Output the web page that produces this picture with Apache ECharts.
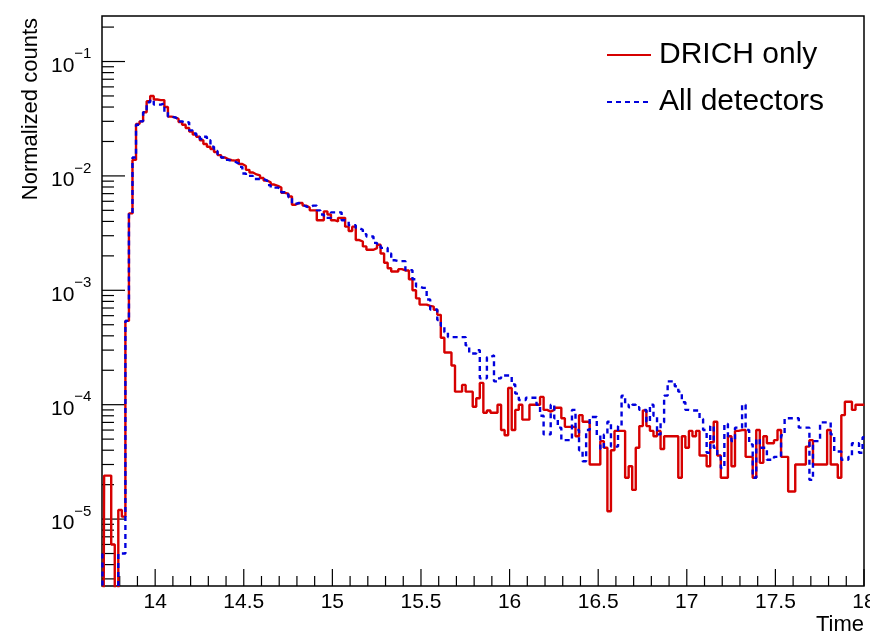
<!DOCTYPE html>
<html>
<head>
<meta charset="utf-8">
<title>Normalized counts vs Time</title>
<script src="https://cdn.jsdelivr.net/npm/echarts@6/dist/echarts.min.js"></script>
<style>
  html, body { margin: 0; padding: 0; background: #fff; }
  #chart { width: 870px; height: 636px; }
</style>
</head>
<body>
<div id="chart"></div>
<script>
// histogram binning: 0.02 wide bins
var binStart = 13.692;
var binWidth = 0.02;

// DRICH only (red, solid)
var drichOnly = [
  0, 2.4e-5, 2.4e-5, 6e-6, 0, 1.2e-5, 1.05e-5, 5.4e-4, 4.7e-3, 1.38e-2,
  2.85e-2, 3.0e-2, 3.6e-2, 4.5e-2, 5.0e-2, 4.65e-2, 4.6e-2, 4.6e-2, 4.0e-2, 3.3e-2,
  3.25e-2, 3.15e-2, 2.96e-2, 2.8e-2, 2.62e-2, 2.44e-2, 2.3e-2, 2.2e-2, 2.05e-2, 1.9e-2,
  1.8e-2, 1.72e-2, 1.62e-2, 1.52e-2, 1.45e-2, 1.4e-2, 1.37e-2, 1.36e-2, 1.39e-2, 1.27e-2,
  1.22e-2, 1.13e-2, 1.07e-2, 1.03e-2, 1.01e-2, 9.6e-3, 9.1e-3, 8.8e-3, 8.4e-3, 8.2e-3,
  7.9e-3, 7.1e-3, 7.0e-3, 6.6e-3, 5.6e-3, 5.8e-3, 5.8e-3, 5.5e-3, 5.3e-3, 5.0e-3,
  5.0e-3, 4.1e-3, 4.1e-3, 4.9e-3, 4.6e-3, 4.1e-3, 4.0e-3, 4.3e-3, 4.3e-3, 3.6e-3,
  3.3e-3, 3.6e-3, 2.75e-3, 2.67e-3, 2.42e-3, 2.26e-3, 2.26e-3, 2.34e-3, 2.5e-3, 2.1e-3,
  1.74e-3, 1.56e-3, 1.46e-3, 1.46e-3, 1.53e-3, 1.49e-3, 1.49e-3, 1.25e-3, 1.0e-3, 8.5e-4,
  7.5e-4, 7.5e-4, 7.3e-4, 7.2e-4, 6.75e-4, 6.1e-4, 3.85e-4, 2.86e-4, 2.86e-4, 2.2e-4,
  1.3e-4, 1.3e-4, 1.49e-4, 1.3e-4, 1.3e-4, 9.6e-5, 1.14e-4, 1.55e-4, 8.5e-5, 8.9e-5,
  8.5e-5, 8.5e-5, 1.0e-4, 6.0e-5, 5.4e-5, 1.4e-4, 6.0e-5, 9.0e-5, 1.0e-4, 7.4e-5,
  7.4e-5, 1.0e-4, 1.0e-4, 1.0e-4, 1.17e-4, 9.0e-5, 8.7e-5, 9.0e-5, 9.4e-5, 9.4e-5,
  7.6e-5, 6.4e-5, 6.4e-5, 6.4e-5, 5.3e-5, 8.1e-5, 7.1e-5, 7.1e-5, 3.0e-5, 3.0e-5,
  3.0e-5, 4.8e-5, 4.2e-5, 1.17e-5, 4.0e-5, 5.9e-5, 5.9e-5, 5.9e-5, 2.3e-5, 2.9e-5,
  1.8e-5, 4.2e-5, 6.5e-5, 8.9e-5, 6.5e-5, 5.9e-5, 5.3e-5, 5.9e-5, 4.1e-5, 5.3e-5,
  5.3e-5, 5.3e-5, 5.3e-5, 2.3e-5, 5.3e-5, 4.2e-5, 5.9e-5, 5.3e-5, 5.9e-5, 3.6e-5,
  3.6e-5, 2.9e-5, 4.7e-5, 7.1e-5, 3.6e-5, 2.3e-5, 2.3e-5, 5.3e-5, 2.9e-5, 5.9e-5,
  6.0e-5, 6.0e-5, 3.5e-5, 3.5e-5, 2.3e-5, 6.0e-5, 3.1e-5, 5.3e-5, 4.6e-5, 4.6e-5,
  4.9e-5, 6.0e-5, 3.5e-5, 3.5e-5, 1.74e-5, 1.74e-5, 3.0e-5, 3.0e-5, 3.0e-5, 4.3e-5,
  4.9e-5, 3.0e-5, 3.0e-5, 3.0e-5, 3.0e-5, 6.0e-5, 3.0e-5, 3.0e-5, 2.3e-5, 8.1e-5,
  1.06e-4, 1.06e-4, 9.0e-5, 1.0e-4, 1.0e-4, 1.0e-4
];

// All detectors (blue, dashed)
var allDetectors = [
  5e-6, 0, 0, 0, 0, 5e-6, 5e-6, 5.4e-4, 4.7e-3, 1.45e-2,
  2.8e-2, 3.0e-2, 3.6e-2, 4.4e-2, 4.6e-2, 4.2e-2, 4.2e-2, 4.3e-2, 3.6e-2, 3.3e-2,
  3.25e-2, 3.15e-2, 3.0e-2, 2.9e-2, 2.95e-2, 2.5e-2, 2.35e-2, 2.2e-2, 2.1e-2, 2.2e-2,
  2.05e-2, 1.8e-2, 1.65e-2, 1.55e-2, 1.45e-2, 1.38e-2, 1.35e-2, 1.33e-2, 1.28e-2, 1.2e-2,
  1.05e-2, 1.0e-2, 1.0e-2, 9.4e-3, 9.4e-3, 9.4e-3, 9.1e-3, 8.3e-3, 7.9e-3, 7.9e-3,
  7.7e-3, 7.2e-3, 6.9e-3, 6.5e-3, 5.7e-3, 5.8e-3, 5.6e-3, 5.4e-3, 5.3e-3, 5.5e-3,
  5.5e-3, 5.0e-3, 4.6e-3, 4.3e-3, 4.3e-3, 4.8e-3, 4.8e-3, 4.8e-3, 4.1e-3, 4.0e-3,
  3.7e-3, 3.7e-3, 3.5e-3, 3.38e-3, 3.1e-3, 2.95e-3, 2.95e-3, 2.6e-3, 2.45e-3, 2.35e-3,
  2.35e-3, 2.1e-3, 1.83e-3, 1.8e-3, 1.8e-3, 1.8e-3, 1.5e-3, 1.5e-3, 1.25e-3, 1.08e-3,
  1.05e-3, 1.05e-3, 8.3e-4, 6.8e-4, 6.8e-4, 5.5e-4, 4.9e-4, 4.3e-4, 3.9e-4, 3.9e-4,
  3.9e-4, 3.9e-4, 3.9e-4, 3.3e-4, 2.8e-4, 2.8e-4, 3.0e-4, 1.7e-4, 1.7e-4, 2.6e-4,
  2.7e-4, 1.6e-4, 1.7e-4, 1.8e-4, 1.8e-4, 1.8e-4, 1.5e-4, 1.25e-4, 1.1e-4, 1.1e-4,
  1.15e-4, 1.15e-4, 1.15e-4, 1.0e-4, 8.0e-5, 5.5e-5, 5.5e-5, 1.0e-4, 7.6e-5, 6.3e-5,
  4.9e-5, 4.9e-5, 4.9e-5, 9.0e-5, 6.0e-5, 4.0e-5, 3.2e-5, 6.0e-5, 7.8e-5, 7.8e-5,
  5.4e-5, 4.1e-5, 5.5e-5, 7.1e-5, 4.3e-5, 4.3e-5, 6.5e-5, 1.2e-4, 1.0e-4, 9.5e-5,
  1.0e-4, 9.5e-5, 9.0e-5, 9.0e-5, 7.1e-5, 1.0e-4, 8.0e-5, 5.5e-5, 7.0e-5, 1.2e-4,
  1.6e-4, 1.6e-4, 1.45e-4, 1.3e-4, 1.05e-4, 9.0e-5, 8.9e-5, 8.9e-5, 8.9e-5, 7.5e-5,
  6.0e-5, 3.8e-5, 6.5e-5, 4.2e-5, 3.5e-5, 2.8e-5, 6.8e-5, 5.3e-5, 4.8e-5, 6.3e-5,
  6.3e-5, 1.0e-4, 6.0e-5, 4.5e-5, 2.3e-5, 5.0e-5, 4.2e-5, 4.2e-5, 3.3e-5, 3.3e-5,
  3.5e-5, 3.5e-5, 5.4e-5, 7.6e-5, 7.6e-5, 7.6e-5, 7.6e-5, 6.3e-5, 6.3e-5, 6.3e-5,
  2.2e-5, 4.8e-5, 4.8e-5, 7.0e-5, 7.0e-5, 7.0e-5, 5.5e-5, 3.9e-5, 3.9e-5, 3.3e-5,
  3.3e-5, 3.5e-5, 4.6e-5, 4.6e-5, 3.8e-5, 5.2e-5
];

var seriesNames = ['DRICH only', 'All detectors'];

// axis ranges and ticks
var xMin = 13.7, xMax = 18;
var yMin = 2.6e-6, yMax = 0.25;
var xMajorTicks = [14, 14.5, 15, 15.5, 16, 16.5, 17, 17.5, 18];
var yDecades = [1e-5, 1e-4, 1e-3, 1e-2, 1e-1];

var FONT = '"Liberation Sans", Arial, Helvetica, sans-serif';

// minor ticks every 0.1 on x, 2..9 per decade on y
var xMinorTicks = [];
for (var t = 138; t < 180; t++) {
  if (t % 5 !== 0) xMinorTicks.push(t / 10);
}
var yMinorTicks = [];
for (var e = -6; e <= -1; e++) {
  for (var m = 2; m <= 9; m++) {
    var v = m * Math.pow(10, e);
    if (v > yMin && v < yMax) yMinorTicks.push(v);
  }
}

function toSteps(values) {
  return values.map(function (v, i) {
    // empty bins fall to the bottom of the frame
    return [binStart + (i + 0.5) * binWidth, v > 0 ? v : 1e-9];
  });
}

function tickSeries(data, horizontal, len) {
  return {
    type: 'custom',
    coordinateSystem: 'cartesian2d',
    silent: true,
    z: 1,
    encode: { x: 0, y: 1 },
    data: data,
    renderItem: function (params, api) {
      var p = api.coord([api.value(0), api.value(1)]);
      return {
        type: 'line',
        shape: {
          x1: p[0], y1: p[1],
          x2: horizontal ? p[0] + len : p[0],
          y2: horizontal ? p[1] : p[1] - len
        },
        style: { stroke: '#000', lineWidth: 1.2 }
      };
    }
  };
}

var chart = echarts.init(document.getElementById('chart'), null, { renderer: 'canvas' });

var option = {
  animation: false,
  backgroundColor: '#fff',
  grid: {
    left: 102, right: 6, top: 16, bottom: 50,
    outerBoundsMode: 'none',
    show: true, borderColor: '#000', borderWidth: 1.5, backgroundColor: 'transparent'
  },
  legend: {
    data: seriesNames,
    orient: 'vertical',
    left: 606, top: 40,
    padding: 0,
    itemWidth: 44, itemHeight: 14, itemGap: 17,
    selectedMode: false,
    itemStyle: { opacity: 0 },
    textStyle: { fontFamily: FONT, fontSize: 30, color: '#000', lineHeight: 30, padding: [0, 0, 0, 3] }
  },
  graphic: [{
    type: 'text',
    x: 31, y: 18,
    rotation: Math.PI / 2,
    style: {
      text: 'Normalized counts',
      fill: '#000',
      font: '22px ' + FONT,
      align: 'right',
      verticalAlign: 'middle'
    }
  }],
  xAxis: {
    type: 'value',
    min: xMin, max: xMax,
    splitNumber: 8, minInterval: 0.5, maxInterval: 0.5,
    name: 'Time',
    nameLocation: 'end',
    nameGap: 0,
    nameMoveOverlap: false,
    nameTextStyle: { fontFamily: FONT, fontSize: 22, color: '#000', align: 'right', verticalAlign: 'top', padding: [28, 0, 0, 0] },
    axisLine: { show: false },
    axisTick: { show: false },
    splitLine: { show: false },
    axisLabel: {
      fontFamily: FONT, fontSize: 21, color: '#000', margin: 6,
      showMinLabel: false, showMaxLabel: true,
      formatter: function (v) { return String(v); }
    }
  },
  yAxis: {
    type: 'log',
    logBase: 10,
    min: yMin, max: yMax,
    axisLine: { show: false },
    axisTick: { show: false },
    splitLine: { show: false },
    axisLabel: {
      margin: 10,
      showMinLabel: false, showMaxLabel: false,
      formatter: function (v) {
        var lg = Math.log10(v);
        var r = Math.round(lg);
        if (Math.abs(lg - r) > 1e-6) return '';
        return '{b|10}{e|\u2212' + (-r) + '}{s| }';
      },
      rich: {
        b: { fontFamily: FONT, fontSize: 21, color: '#000', lineHeight: 23, verticalAlign: 'bottom' },
        e: { fontFamily: FONT, fontSize: 15, color: '#000', lineHeight: 17, verticalAlign: 'top' },
        s: { fontFamily: FONT, fontSize: 2, lineHeight: 30, verticalAlign: 'middle' }
      }
    }
  },
  series: [
    tickSeries(xMajorTicks.map(function (v) { return [v, yMin]; }), false, 17),
    tickSeries(xMinorTicks.map(function (v) { return [v, yMin]; }), false, 10),
    tickSeries(yDecades.map(function (v) { return [xMin, v]; }), true, 23),
    tickSeries(yMinorTicks.map(function (v) { return [xMin, v]; }), true, 12),
    {
      name: seriesNames[0],
      type: 'line',
      step: 'middle',
      symbol: 'none',
      z: 3,
      data: toSteps(drichOnly),
      lineStyle: { color: '#d60000', width: 2.4 },
      itemStyle: { color: '#d60000' }
    },
    {
      name: seriesNames[1],
      type: 'line',
      step: 'middle',
      symbol: 'none',
      z: 4,
      data: toSteps(allDetectors),
      lineStyle: { color: '#0000dd', width: 2.4, type: [5, 4] },
      itemStyle: { color: '#0000dd' }
    }
  ]
};

chart.setOption(option);
</script>
</body>
</html>
